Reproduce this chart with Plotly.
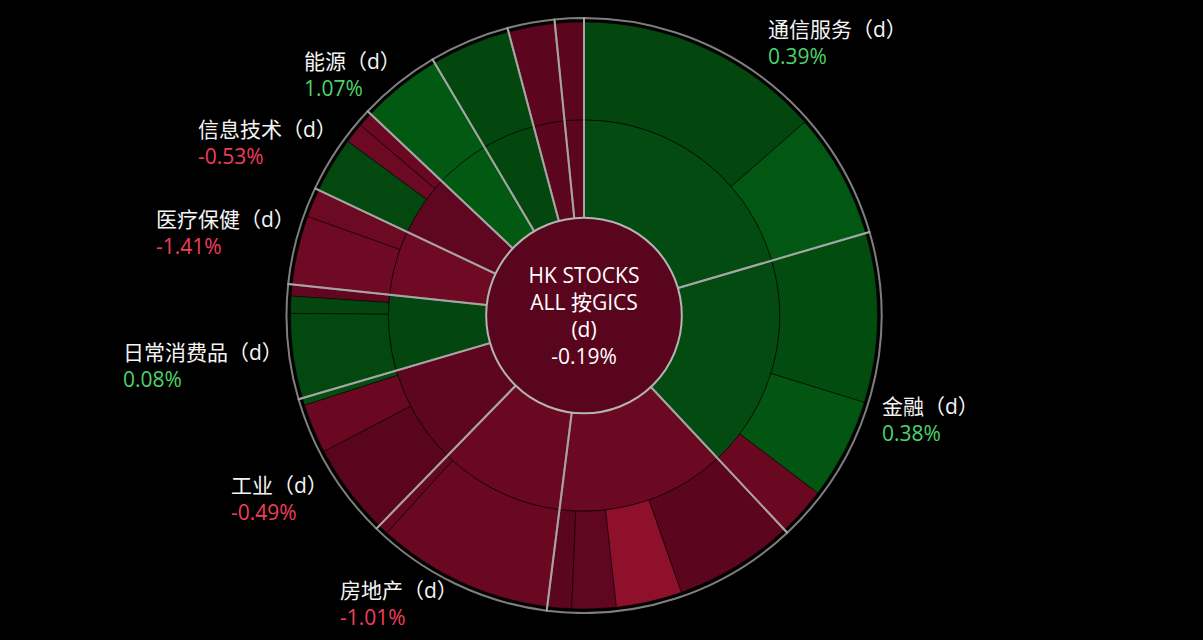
import plotly.graph_objects as go

W, H = 1203, 640

# ---------------- data ----------------
root_label = "HK STOCKS<br>ALL 按GICS<br>(d)"
root_change = -0.19

sectors = ["通信服务", "金融", "非必需消费品", "房地产", "工业", "日常消费品",
           "医疗保健", "信息技术", "能源", "原材料", "公用事业", "综合企业"]
sector_changes = [0.39, 0.38, -1.05, -1.01, -0.49, 0.08, -1.41, -0.53, 1.07, 0.15, -0.35, -0.30]

leaf_names = ["媒体与娱乐", "电信服务",
              "银行", "保险", "多元金融",
              "零售业", "消费者服务", "汽车与汽车零部件", "耐用消费品与服装",
              "房地产管理和开发", "房地产投资信托",
              "资本品", "运输", "商业和专业服务",
              "食品、饮料与烟草", "家庭与个人用品", "食品与主要用品零售",
              "制药、生物科技与生命科学", "医疗保健设备与服务",
              "技术硬件与设备", "半导体产品与设备", "软件与服务",
              "石油、天然气与消费用燃料",
              "材料",
              "电力",
              "综合类"]
leaf_parents = ["通信服务", "通信服务",
                "金融", "金融", "金融",
                "非必需消费品", "非必需消费品", "非必需消费品", "非必需消费品",
                "房地产", "房地产",
                "工业", "工业", "工业",
                "日常消费品", "日常消费品", "日常消费品",
                "医疗保健", "医疗保健",
                "信息技术", "信息技术", "信息技术",
                "能源",
                "原材料",
                "公用事业",
                "综合企业"]
leaf_values = [487.5, 249.5,
               335.0, 200.0, 97.0,
               237.0, 130.5, 87.5, 48.0,
               350.0, 20.5,
               181.5, 98.0, 14.5,
               167.5, 34.0, 23.0,
               136.0, 56.0,
               111.0, 40.0, 29.5,
               160.5,
               157.0,
               92.0,
               57.0]
leaf_changes = [0.10, 0.95,
                0.45, 0.90, -1.00,
                -0.30, -3.00, -0.60, -0.30,
                -1.00, -0.80,
                -0.25, -1.00, 0.50,
                0.20, 0.10, -0.60,
                -1.50, -1.20,
                0.20, -1.20, -1.00,
                1.07,
                0.15,
                -0.35,
                -0.30]

labelled_sectors = ["通信服务", "金融", "房地产", "工业", "日常消费品", "医疗保健", "信息技术", "能源"]

# ---------------- style ----------------
FONT = "Open Sans, Noto Sans CJK SC, sans-serif"
CX, CY = 584.0, 315.5
R_OUT = 293.5
R_RING = 297.5
SEP = "#b4b4b4"
colorscale = [
    [0.0, "#a0142f"],
    [0.125, "#8e102a"],
    [0.3125, "#6f0a24"],
    [0.375, "#6a0822"],
    [0.4375, "#5e0620"],
    [0.4999, "#56041c"],
    [0.5, "#03420e"],
    [0.50625, "#03460f"],
    [0.55, "#034b10"],
    [0.625, "#025812"],
    [1.0, "#0a8c22"],
]

# label placement (pixel): left x, centre of name line, centre of value line
label_pos = {
    "通信服务": (766, 31, 55),
    "金融": (880, 408, 431),
    "房地产": (338, 592, 614),
    "工业": (229, 487, 510),
    "日常消费品": (121, 353, 377),
    "医疗保健": (154, 221, 244),
    "信息技术": (196, 130, 154),
    "能源": (302, 63, 86),
}


def dom(r):
    return dict(x=[(CX - r) / W, (CX + r) / W], y=[1 - (CY + r) / H, 1 - (CY - r) / H])


# plotly lays sunburst slices out counter-clockwise; feed them reversed so they read clockwise
rev_sectors = sectors[::-1]
rev_sector_changes = sector_changes[::-1]
rev_leaf = list(zip(leaf_names, leaf_parents, leaf_values, leaf_changes))[::-1]
sector_totals = [sum(v for v, p in zip(leaf_values, leaf_parents) if p == s) for s in rev_sectors]

ids = (["root"] + ["root/" + s for s in rev_sectors]
       + ["root/%s/%s" % (p, n) for n, p, v, c in rev_leaf])
labels = [root_label] + rev_sectors + [n for n, p, v, c in rev_leaf]
parents = [""] + ["root"] * len(rev_sectors) + ["root/" + p for n, p, v, c in rev_leaf]
values = [0] + [0] * len(rev_sectors) + [v for n, p, v, c in rev_leaf]
colors = [root_change] + rev_sector_changes + [c for n, p, v, c in rev_leaf]

fig = go.Figure()

fig.add_trace(go.Sunburst(
    ids=ids, labels=labels, parents=parents, values=values,
    branchvalues="remainder", sort=False, rotation=90,
    marker=dict(colors=colors, colorscale=colorscale, cmin=-4, cmax=4, showscale=False,
                line=dict(color="rgba(0,0,0,0.6)", width=0.8)),
    textinfo="none", hoverinfo="label", domain=dom(R_OUT),
))

# sector separators and outer ring
fig.add_trace(go.Sunburst(
    ids=rev_sectors, labels=rev_sectors, parents=[""] * len(rev_sectors), values=sector_totals,
    sort=False, rotation=90,
    marker=dict(colors=["rgba(0,0,0,0)"] * len(rev_sectors), line=dict(color=SEP, width=2)),
    textinfo="none", hoverinfo="skip", domain=dom(R_RING),
))

# root disc
fig.add_trace(go.Sunburst(
    labels=[root_label], parents=[""], values=[1], text=["%.2f%%" % root_change],
    textinfo="label+text", sort=False,
    marker=dict(colors=[root_change], colorscale=colorscale, cmin=-4, cmax=4, showscale=False,
                line=dict(color=SEP, width=2)),
    insidetextfont=dict(family=FONT, size=21, color="#ffffff"),
    hoverinfo="skip", domain=dom(R_OUT / 3.0),
))

for s, c in zip(sectors, sector_changes):
    if s not in labelled_sectors:
        continue
    x, y1, y2 = label_pos[s]
    val_col = "#4cd46c" if c >= 0 else "#ef3e5c"
    fig.add_annotation(
        x=x / W, y=1 - ((y1 + y2) / 2.0) / H, xref="paper", yref="paper",
        xanchor="left", yanchor="middle", align="left", showarrow=False,
        text="%s（d）<br><span style='color:%s'>%.2f%%</span>" % (s, val_col, c),
        font=dict(family=FONT, size=21, color="#f4f4f4"),
    )

fig.update_layout(
    width=W, height=H, margin=dict(l=0, r=0, t=0, b=0),
    paper_bgcolor="#000000", plot_bgcolor="#000000", showlegend=False,
    font=dict(family=FONT),
)

fig.write_html(
    "out.html",
    config={"displayModeBar": False},
    post_script="document.body.style.margin='0';document.body.style.background='#000000';"
                "document.documentElement.style.background='#000000';",
)
